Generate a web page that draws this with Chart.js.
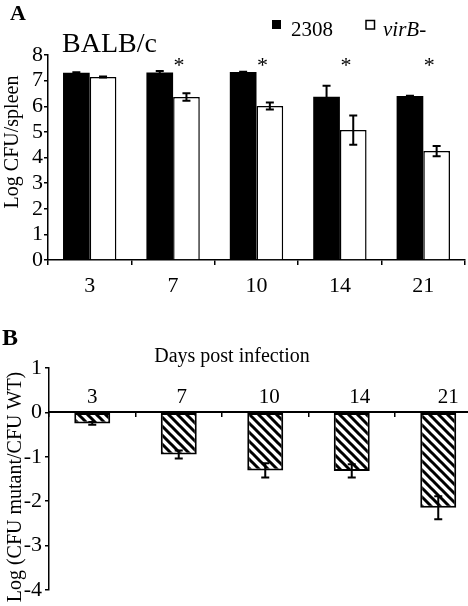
<!DOCTYPE html>
<html>
<head>
<meta charset="utf-8">
<script src="https://cdn.jsdelivr.net/npm/chart.js@4"></script>
<style>
  html, body { margin: 0; padding: 0; background: #fff; width: 468px; height: 606px; overflow: hidden; }
  #wrapA { position: absolute; left: 0; top: 0; width: 468px; height: 300px; }
  #wrapB { position: absolute; left: 0; top: 300px; width: 490px; height: 306px; }
</style>
</head>
<body>
<div id="wrapA"><canvas id="chartA" width="468" height="300"></canvas></div>
<div id="wrapB"><canvas id="chartB" width="490" height="306"></canvas></div>
<script>
// ---------- data ----------
const days = ['3', '7', '10', '14', '21'];
const wtValues = [7.31, 7.32, 7.34, 6.37, 6.40];      // 2308
const wtErrors = [0.02, 0.06, 0.01, 0.43, 0.01];
const mutValues = [7.14, 6.36, 6.01, 5.07, 4.25];     // virB-
const mutErrors = [0.02, 0.15, 0.14, 0.57, 0.20];
const significant = [false, true, true, true, true];
const ratioValues = [-0.25, -0.95, -1.31, -1.32, -2.15];
const ratioErrors = [0.03, 0.09, 0.16, 0.15, 0.26];
const yTicksA = [0, 1, 2, 3, 4, 5, 6, 7, 8];
const yTicksB = [1, 0, -1, -2, -3, -4];

const SERIF = '"Liberation Serif", "Times New Roman", serif';
Chart.defaults.font.family = SERIF;
Chart.defaults.color = '#000';
Chart.defaults.animation = false;

function errorBarPlugin(errArrays) {
  return {
    id: 'errbars',
    afterDatasetsDraw(chart) {
      const ctx = chart.ctx;
      const y = chart.scales.y;
      ctx.save();
      ctx.strokeStyle = '#000';
      ctx.lineWidth = 2;
      chart.data.datasets.forEach((ds, di) => {
        const meta = chart.getDatasetMeta(di);
        const errs = errArrays[di];
        meta.data.forEach((bar, i) => {
          const v = ds.data[i];
          const e = errs[i];
          const x = bar.x;
          const y1 = y.getPixelForValue(v - e);
          const y2 = y.getPixelForValue(v + e);
          ctx.beginPath();
          ctx.moveTo(x, y1); ctx.lineTo(x, y2);
          ctx.moveTo(x - 4, y1); ctx.lineTo(x + 4, y1);
          ctx.moveTo(x - 4, y2); ctx.lineTo(x + 4, y2);
          ctx.stroke();
        });
      });
      ctx.restore();
    }
  };
}

// ---------- Chart A ----------
const annotA = {
  id: 'annotA',
  afterDraw(chart) {
    const ctx = chart.ctx;
    const xs = chart.scales.x;
    ctx.save();
    ctx.fillStyle = '#000';
    ctx.textAlign = 'left';
    ctx.textBaseline = 'alphabetic';
    ctx.font = 'bold 22px ' + SERIF;
    ctx.fillText('A', 10, 20);
    ctx.font = '28px ' + SERIF;
    ctx.fillText('BALB/c', 62, 52);
    // legend
    ctx.fillRect(272, 20, 9, 9);
    ctx.font = '21px ' + SERIF;
    ctx.fillText(chart.data.datasets[0].label, 291, 36);
    ctx.lineWidth = 1.5;
    ctx.strokeStyle = '#000';
    ctx.strokeRect(366, 20.5, 8.5, 8.5);
    ctx.font = 'italic 21px ' + SERIF;
    ctx.fillText(chart.data.datasets[1].label, 383, 36);
    // asterisks
    ctx.font = '22px ' + SERIF;
    ctx.textAlign = 'center';
    significant.forEach((s, i) => {
      if (s) ctx.fillText('*', xs.getPixelForValue(i) + 6, 72);
    });
    // y title
    ctx.save();
    ctx.translate(18, 142);
    ctx.rotate(-Math.PI / 2);
    ctx.font = '20px ' + SERIF;
    ctx.textAlign = 'center';
    ctx.fillText('Log CFU/spleen', 0, 0);
    ctx.restore();
    ctx.restore();
  }
};

new Chart(document.getElementById('chartA'), {
  type: 'bar',
  data: {
    labels: days,
    datasets: [
      { label: '2308', data: wtValues, backgroundColor: '#000', borderColor: '#000', borderWidth: 0 },
      { label: 'virB-', data: mutValues, backgroundColor: '#fff', borderColor: '#000', borderWidth: 1.5 }
    ]
  },
  options: {
    responsive: false,
    layout: { padding: { top: 55, right: 3, bottom: 0, left: 0 } },
    plugins: { legend: { display: false }, tooltip: { enabled: false } },
    datasets: { bar: { categoryPercentage: 0.64, barPercentage: 1.0 } },
    scales: {
      x: {
        grid: { display: true, drawOnChartArea: false, tickLength: 5, color: '#000', lineWidth: 1.5, offset: true },
        border: { color: '#000', width: 1.5 },
        ticks: { font: { size: 22 }, padding: 8, color: '#000', autoSkip: false, maxRotation: 0 },
        afterFit(s) { s.height = 40; }
      },
      y: {
        min: 0, max: 8,
        afterBuildTicks(s) { s.ticks = yTicksA.map(v => ({ value: v })); },
        grid: { display: true, drawOnChartArea: false, tickLength: 4, color: '#000', lineWidth: 1.5 },
        border: { color: '#000', width: 1.5 },
        ticks: { font: { size: 22 }, padding: 1, color: '#000', autoSkip: false },
        afterFit(s) { s.width = 48; }
      }
    }
  },
  plugins: [errorBarPlugin([wtErrors, mutErrors]), annotA]
});

// ---------- Chart B ----------
function hatchPattern() {
  const c = document.createElement('canvas');
  const s = 9;
  c.width = s; c.height = s;
  const g = c.getContext('2d');
  g.fillStyle = '#fff';
  g.fillRect(0, 0, s, s);
  g.strokeStyle = '#000';
  g.lineWidth = 3;
  g.beginPath();
  g.moveTo(-s, 0); g.lineTo(s * 2, s * 3);
  g.moveTo(-s, -s); g.lineTo(s * 2, s * 2);
  g.moveTo(-s * 2, -s); g.lineTo(s, s * 2);
  g.moveTo(0, -s); g.lineTo(s * 3, s * 2);
  g.stroke();
  return g.createPattern(c, 'repeat');
}

const annotB = {
  id: 'annotB',
  afterDraw(chart) {
    const ctx = chart.ctx;
    const xs = chart.scales.x;
    const ys = chart.scales.y;
    ctx.save();
    ctx.fillStyle = '#000';
    ctx.textBaseline = 'alphabetic';
    ctx.textAlign = 'left';
    ctx.font = 'bold 24px ' + SERIF;
    ctx.fillText('B', 2, 45);
    ctx.font = '20px ' + SERIF;
    ctx.textAlign = 'center';
    ctx.fillText('Days post infection', 232, 62);
    const offs = [0, 3, 4, 8, 10];
    const y0 = ys.getPixelForValue(0);
    ctx.font = '21px ' + SERIF;
    chart.data.labels.forEach((lab, i) => {
      ctx.fillText(lab, xs.getPixelForValue(i) + offs[i], y0 - 9);
    });
    ctx.font = '20px ' + SERIF;
    ctx.save();
    ctx.translate(21, 187);
    ctx.rotate(-Math.PI / 2);
    ctx.textAlign = 'center';
    ctx.fillText('Log (CFU mutant/CFU WT)', 0, 0);
    ctx.restore();
    ctx.restore();
  }
};

new Chart(document.getElementById('chartB'), {
  type: 'bar',
  data: {
    labels: days,
    datasets: [
      { label: 'ratio', data: ratioValues, backgroundColor: hatchPattern(), borderColor: '#000', borderWidth: 2, borderSkipped: false }
    ]
  },
  options: {
    responsive: false,
    layout: { padding: { top: 68, right: 8.5, bottom: 13, left: 0 } },
    plugins: { legend: { display: false }, tooltip: { enabled: false } },
    datasets: { bar: { categoryPercentage: 0.416, barPercentage: 1.0 } },
    scales: {
      x: {
        position: { y: 0 },
        grid: { display: true, drawOnChartArea: false, tickLength: 4, color: '#000', lineWidth: 1.5, offset: true },
        border: { color: '#000', width: 2 },
        ticks: { display: false },
        afterFit(s) { s.height = 0; }
      },
      y: {
        min: -4, max: 1,
        afterBuildTicks(s) { s.ticks = yTicksB.map(v => ({ value: v })); },
        grid: { display: true, drawOnChartArea: false, tickLength: 4, color: '#000', lineWidth: 1.5 },
        border: { color: '#000', width: 1.5 },
        ticks: { font: { size: 22 }, padding: 3, color: '#000', autoSkip: false },
        afterFit(s) { s.width = 49; }
      }
    }
  },
  plugins: [errorBarPlugin([ratioErrors]), annotB]
});
</script>
</body>
</html>
